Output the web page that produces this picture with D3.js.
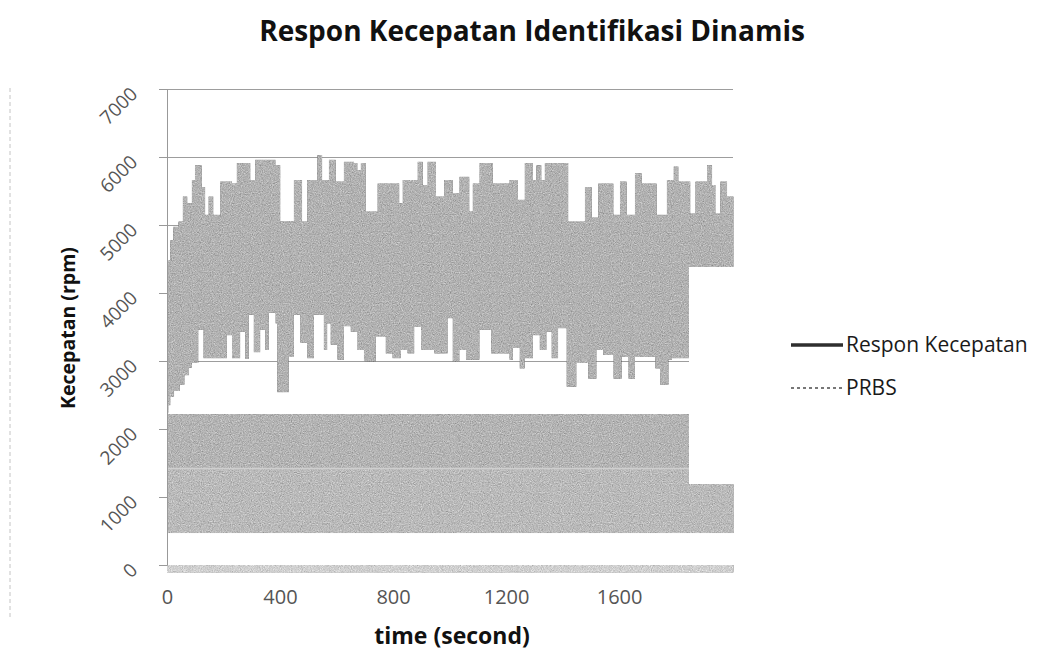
<!DOCTYPE html>
<html>
<head>
<meta charset="utf-8">
<script src="https://cdn.jsdelivr.net/npm/d3@7"></script>
<style>
  body { margin: 0; background: #fff; }
  svg { display: block; font-family: "Open Sans", sans-serif; }
</style>
</head>
<body>
<div id="chart"></div>
<script>
// values (time in second, speed in rpm)
// the response oscillates fast, so it is kept as its upper and lower envelope
var upperTime = [0, 5, 11, 22, 40, 56, 72, 88, 99, 123, 135, 147, 164, 188, 230, 247, 295, 312, 384, 401,
  449, 478, 496, 532, 549, 573, 597, 626, 662, 674, 686, 703, 745, 822, 834, 887, 905, 922, 952, 981,
  1011, 1035, 1070, 1082, 1106, 1153, 1212, 1242, 1266, 1295, 1307, 1325, 1337, 1420, 1479, 1503, 1526,
  1580, 1603, 1627, 1656, 1680, 1733, 1769, 1793, 1810, 1852, 1870, 1911, 1929, 1941, 1958, 1982];
var upperRpm = [4290, 4480, 4780, 4975, 5050, 5420, 5320, 5660, 5880, 5560, 5150, 5420, 5150, 5640, 5610, 5910, 5660, 5960, 5880, 5060,
  5660, 5050, 5660, 6030, 5660, 5960, 5640, 5930, 5910, 5810, 5910, 5200, 5610, 5320, 5660, 5930, 5590, 5930, 5420, 5660,
  5470, 5710, 5200, 5610, 5910, 5610, 5660, 5370, 5910, 5660, 5880, 5660, 5910, 5050, 5560, 5110, 5610,
  5150, 5640, 5150, 5760, 5610, 5150, 5660, 5860, 5640, 5170, 5640, 5880, 5590, 5170, 5640, 5420];

var lowerTime = [0, 5, 12, 25, 45, 62, 78, 88, 111, 129, 212, 230, 259, 277, 289, 307, 330, 348, 360, 384,
  390, 431, 449, 472, 496, 520, 555, 567, 579, 603, 626, 650, 674, 697, 739, 774, 798, 828, 851, 875,
  899, 946, 993, 1011, 1035, 1058, 1106, 1147, 1212, 1224, 1248, 1266, 1295, 1319, 1343, 1361, 1384,
  1414, 1449, 1491, 1520, 1544, 1580, 1609, 1633, 1656, 1728, 1745, 1775, 1787, 1852, 1900, 1950];
var lowerRpm = [2230, 2350, 2470, 2560, 2650, 2790, 2900, 2970, 3460, 3040, 3380, 3040, 3430, 3030, 3680, 3130, 3460, 3160, 3710, 3550,
  2540, 3060, 3680, 3270, 3040, 3680, 3160, 3550, 3240, 3020, 3510, 3430, 3160, 2990, 3360, 3110, 3040, 3160, 3110, 3500,
  3160, 3110, 3630, 2990, 3160, 3020, 3460, 3110, 3020, 3190, 2890, 3040, 3380, 3160, 3430, 3040, 3480,
  2620, 2970, 2740, 3160, 3090, 2740, 3060, 2740, 3060, 2890, 2650, 3020, 3040, 3100, 2900, 3050];

// PRBS switches so fast it prints as a solid band
var prbsLevels = [470, 1420, 2220];
var baseBand = [-110, 0];
var timeEnd = 2005;

var xTicks = [0, 400, 800, 1200, 1600];
var yTicks = [0, 1000, 2000, 3000, 4000, 5000, 6000, 7000];
var seriesNames = ["Respon Kecepatan", "PRBS"];

var W = 1051, H = 652;
var margin = {top: 89, left: 167, right: 318, bottom: 87};
var width = W - margin.left - margin.right,
    height = H - margin.top - margin.bottom;

var x = d3.scaleLinear().domain([0, 2003]).range([0, width]);
var y = d3.scaleLinear().domain([0, 7000]).range([height, 0]);

var svg = d3.select("#chart").append("svg")
  .attr("width", W).attr("height", H);

// grain like the scan
var defs = svg.append("defs");
var f = defs.append("filter").attr("id", "grain")
  .attr("color-interpolation-filters", "sRGB")
  .attr("x", 0).attr("y", 0).attr("width", "100%").attr("height", "100%");
f.append("feTurbulence").attr("type", "fractalNoise").attr("baseFrequency", 0.9)
  .attr("numOctaves", 2).attr("seed", 4).attr("result", "noise");
f.append("feColorMatrix").attr("in", "noise").attr("type", "matrix")
  .attr("values", "0.33 0.33 0.33 0 0  0.33 0.33 0.33 0 0  0.33 0.33 0.33 0 0  0 0 0 0 1")
  .attr("result", "grey");
f.append("feComposite").attr("in", "SourceGraphic").attr("in2", "grey")
  .attr("operator", "arithmetic").attr("k1", 0).attr("k2", 1).attr("k3", 0.6).attr("k4", -0.26)
  .attr("result", "mix");
f.append("feComposite").attr("in", "mix").attr("in2", "SourceGraphic").attr("operator", "in");

// outer chart border (dashed in the scan)
svg.append("line")
  .attr("x1", 10).attr("x2", 10).attr("y1", 88).attr("y2", 620)
  .attr("stroke", "#c4c4c4").attr("stroke-dasharray", "4,3");

// title
svg.append("text")
  .attr("x", 532).attr("y", 41)
  .attr("text-anchor", "middle")
  .style("font-size", "28px").style("font-weight", "bold").attr("fill", "#111")
  .text("Respon Kecepatan Identifikasi Dinamis");

var g = svg.append("g").attr("transform", "translate(" + margin.left + "," + margin.top + ")");

// gridlines
var grid = g.append("g").attr("class", "grid")
  .call(d3.axisLeft(y).tickValues(yTicks).tickSize(-width).tickFormat(""));
grid.select(".domain").remove();
grid.selectAll("line").attr("stroke", "#9d9d9d").attr("stroke-width", 1);

// data
var data = g.append("g").attr("filter", "url(#grain)");

// step lookup: a value holds until the next breakpoint
function holdAt(times, vals, t) {
  var i = d3.bisectRight(times, t) - 1;
  return vals[Math.max(0, i)];
}
var allTimes = Array.from(new Set(upperTime.concat(lowerTime, [timeEnd]))).sort(d3.ascending);
var respArea = d3.area()
  .curve(d3.curveStepAfter)
  .x(function(t) { return x(t); })
  .y0(function(t) { return y(holdAt(lowerTime, lowerRpm, t)); })
  .y1(function(t) { return y(holdAt(upperTime, upperRpm, t)); });

var prbsBands = [
  {lo: prbsLevels[0], hi: prbsLevels[1], fill: "#b0b0b0"},
  {lo: prbsLevels[1], hi: prbsLevels[2], fill: "#aaaaaa"}
];
data.selectAll("rect.prbs").data(prbsBands).enter().append("rect")
  .attr("class", "prbs")
  .attr("x", x(0)).attr("width", x(timeEnd) - x(0))
  .attr("y", function(d) { return y(d.hi); })
  .attr("height", function(d) { return y(d.lo) - y(d.hi); })
  .attr("fill", function(d) { return d.fill; });

data.append("rect")
  .attr("x", x(0)).attr("width", x(timeEnd) - x(0))
  .attr("y", y(baseBand[1])).attr("height", y(baseBand[0]) - y(baseBand[1]))
  .attr("fill", "#c6c6c6");

data.append("path")
  .datum(allTimes)
  .attr("d", respArea)
  .attr("fill", "#a8a8a8");

// light seam in the PRBS band
g.append("line")
  .attr("x1", x(0)).attr("x2", x(timeEnd))
  .attr("y1", y(prbsLevels[1])).attr("y2", y(prbsLevels[1]))
  .attr("stroke", "#cfcfcf").attr("stroke-width", 1.5);

// y axis
var yAxis = g.append("g")
  .call(d3.axisLeft(y).tickValues(yTicks).tickSize(8).tickPadding(0).tickFormat(d3.format("d")));
yAxis.select(".domain").attr("stroke", "#999");
yAxis.selectAll(".tick line").attr("stroke", "#999");
yAxis.selectAll(".tick text")
  .attr("x", 0).attr("dy", "0.35em")
  .attr("transform", "translate(-33,1) rotate(-45)")
  .style("font-size", "19px").attr("fill", "#555").style("font-family", "Open Sans, sans-serif");

// x axis
var xAxis = g.append("g").attr("transform", "translate(0," + height + ")")
  .call(d3.axisBottom(x).tickValues(xTicks).tickSize(0).tickPadding(25).tickFormat(d3.format("d")));
xAxis.select(".domain").remove();
xAxis.selectAll(".tick text")
  .style("font-size", "20px").attr("fill", "#555").style("font-family", "Open Sans, sans-serif");

// axis titles
svg.append("text")
  .attr("transform", "translate(75,328) rotate(-90)")
  .attr("text-anchor", "middle")
  .style("font-size", "19.5px").style("font-weight", "bold").attr("fill", "#111")
  .text("Kecepatan (rpm)");

svg.append("text")
  .attr("x", 452).attr("y", 644)
  .attr("text-anchor", "middle")
  .style("font-size", "23px").style("font-weight", "bold").attr("fill", "#111")
  .text("time (second)");

// legend box sits over the right end of the plot
var legend = svg.append("g");
legend.append("rect")
  .attr("x", 689).attr("y", 267).attr("width", W - 689).attr("height", 217)
  .attr("fill", "#fff");

var legendItems = legend.selectAll("g.item").data(seriesNames).enter().append("g")
  .attr("class", "item")
  .attr("transform", function(d, i) { return "translate(0," + (i * 43) + ")"; });

legendItems.append("line")
  .attr("x1", 791).attr("x2", 843).attr("y1", 345).attr("y2", 345)
  .attr("stroke", function(d, i) { return i === 0 ? "#2e2e2e" : "#777"; })
  .attr("stroke-width", function(d, i) { return i === 0 ? 3.5 : 2; })
  .attr("stroke-dasharray", function(d, i) { return i === 0 ? null : "3,3"; });

legendItems.append("text")
  .attr("x", 846).attr("y", 352)
  .style("font-size", "21px").attr("fill", "#1a1a1a")
  .text(function(d) { return d; });
</script>
</body>
</html>
